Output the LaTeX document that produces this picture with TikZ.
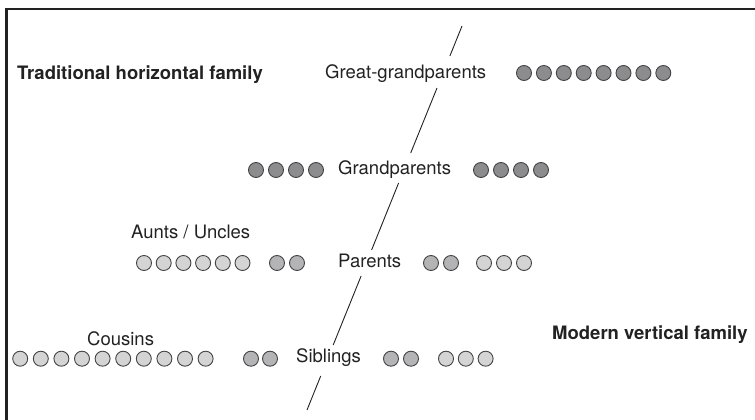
\documentclass[tikz,border=0pt]{standalone}
\usepackage{fontspec}
\setmainfont{TeX Gyre Heros}
\definecolor{ink}{HTML}{222222}
\definecolor{dkgray}{HTML}{8C8C8E}
\definecolor{mdgray}{HTML}{B4B4B6}
\definecolor{ltgray}{HTML}{D4D4D4}
\begin{document}
\begin{tikzpicture}[x=1pt,y=-1pt,
  lab/.style={inner sep=0pt, anchor=base west, text=ink, font=\fontsize{18.5}{22}\selectfont},
  bold/.style={lab, font=\fontsize{18.5}{22}\selectfont\bfseries},
  dot/.style={circle, minimum size=15pt, inner sep=0pt, draw=ink!85, line width=0.9pt},
  dk/.style={dot, fill=dkgray},
  md/.style={dot, fill=mdgray},
  lt/.style={dot, fill=ltgray},
  divider/.style={draw=ink, line width=0.9pt},
  frame/.style={draw=ink, line width=2.6pt}]
\useasboundingbox (0,0) rectangle (755,420);
% frame (left and top sides)
\coordinate (fb) at (6.5,421);
\coordinate (fc) at (6.5,9);
\coordinate (fr) at (756,9);
\draw[frame] (fb) -- (fc) -- (fr);
% titles
\node[bold] (trad) at (17,79) {Traditional horizontal family};
\node[bold] (mod) at (552,339.5) {Modern vertical family};
% generation labels
\node[lab] (gg) at (325,78.5) {Great-grandparents};
\node[lab] (gp) at (338,174) {Grandparents};
\node[lab] (pa) at (338,267) {Parents};
\node[lab] (si) at (296,362) {Siblings};
\node[lab] (au) at (131,238) {Aunts / Uncles};
\node[lab] (co) at (87,345.5) {Cousins};
% dividing line
\coordinate (d0) at (462,26);
\coordinate (d1) at (449.9,56);
\coordinate (d2) at (437.0,88);
\coordinate (d3) at (410.7,153);
\coordinate (d4) at (398.6,183);
\coordinate (d5) at (371.6,250);
\coordinate (d6) at (361.1,276);
\coordinate (d7) at (333.2,345);
\coordinate (d8) at (320.7,376);
\coordinate (d9) at (307,410);
\draw[divider] (d0) -- (d1);
\draw[divider] (d2) -- (d3);
\draw[divider] (d4) -- (d5);
\draw[divider] (d6) -- (d7);
\draw[divider] (d8) -- (d9);
% great-grandparents
\foreach \i in {0,...,7} \node[dk] (ggc\i) at ({524+19.9*\i},73) {};
% grandparents
\foreach \i in {0,...,3} \node[dk] (gpl\i) at ({256+20*\i},170) {};
\foreach \i in {0,...,3} \node[dk] (gpr\i) at ({481+20*\i},170) {};
% parents row
\foreach \i in {0,...,5} \node[lt] (au\i) at ({144+19.7*\i},263) {};
\foreach \i in {0,1} \node[md] (pal\i) at ({277+20*\i},263) {};
\foreach \i in {0,1} \node[md] (par\i) at ({431+20*\i},263) {};
\foreach \i in {0,...,2} \node[lt] (pas\i) at ({484+20*\i},263) {};
% siblings row
\foreach \i in {0,...,9} \node[lt] (co\i) at ({20.2+20.6*\i},358.7) {};
\foreach \i in {0,1} \node[md] (sil\i) at ({251+19*\i},358.7) {};
\foreach \i in {0,1} \node[md] (sir\i) at ({391+20*\i},358.7) {};
\foreach \i in {0,...,2} \node[lt] (sis\i) at ({446+19.8*\i},358.7) {};
\end{tikzpicture}
\end{document}
